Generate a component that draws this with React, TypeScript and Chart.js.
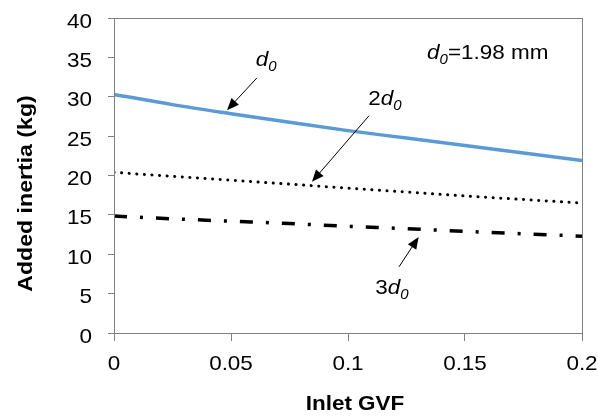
import React, { useEffect, useRef } from "react";
import { Chart, registerables } from "chart.js";

Chart.register(...registerables);

const gvf = [0, 0.025, 0.05, 0.075, 0.1, 0.125, 0.15, 0.175, 0.2];
const seriesD0 = [30.3, 29.0, 27.85, 26.75, 25.7, 24.75, 23.8, 22.85, 21.9];
const series2D0 = [20.4, 19.9, 19.4, 18.9, 18.4, 17.9, 17.4, 16.95, 16.5];
const series3D0 = [14.85, 14.5, 14.2, 13.9, 13.55, 13.25, 12.9, 12.6, 12.3];
const xTicks = [0, 0.05, 0.1, 0.15, 0.2];
const yTicks = [0, 5, 10, 15, 20, 25, 30, 35, 40];

// annotation anchors in data units: [label x, label y, arrow from x, from y, arrow to x, to y]
const annD0 = [0.065, 34.8, 0.0611, 32.4, 0.0483, 28.3];
const ann2D0 = [0.1158, 29.8, 0.109, 27.6, 0.0846, 19.2];
const ann3D0 = [0.1188, 5.8, 0.1218, 8.4, 0.1302, 12.2];
const noteAnchor = [0.1338, 35.7];

const FONT = "Liberation Sans, Arial, sans-serif";
const SX = 1.07;

function txt(ctx: CanvasRenderingContext2D, s: string, x: number, y: number, font: string, align: CanvasTextAlign = "left") {
  ctx.save();
  ctx.font = font;
  ctx.textAlign = align;
  ctx.textBaseline = "alphabetic";
  ctx.translate(x, y);
  ctx.scale(SX, 1);
  ctx.fillText(s, 0, 0);
  ctx.restore();
}

function width(ctx: CanvasRenderingContext2D, s: string, font: string) {
  ctx.font = font;
  return ctx.measureText(s).width * SX;
}

function drawRich(ctx: CanvasRenderingContext2D, prefix: string, suffix: string, x: number, base: number) {
  const fMain = `21px ${FONT}`;
  const fIt = `italic 21px ${FONT}`;
  const fSub = `italic 14px ${FONT}`;
  if (prefix) {
    txt(ctx, prefix, x, base, fMain);
    x += width(ctx, prefix, fMain);
  }
  txt(ctx, "d", x, base, fIt);
  x += width(ctx, "d", fIt);
  txt(ctx, "0", x, base + 5, fSub);
  x += width(ctx, "0", fSub);
  if (suffix) txt(ctx, suffix, x, base, fMain);
}

function richWidth(ctx: CanvasRenderingContext2D, prefix: string) {
  return (
    (prefix ? width(ctx, prefix, `21px ${FONT}`) : 0) +
    width(ctx, "d", `italic 21px ${FONT}`) +
    width(ctx, "0", `italic 14px ${FONT}`)
  );
}

function drawArrow(ctx: CanvasRenderingContext2D, x1: number, y1: number, x2: number, y2: number) {
  const ang = Math.atan2(y2 - y1, x2 - x1);
  const head = 12;
  const hw = 5;
  ctx.strokeStyle = "#000";
  ctx.lineWidth = 1;
  ctx.beginPath();
  ctx.moveTo(x1, y1);
  ctx.lineTo(x2 - Math.cos(ang) * head * 0.8, y2 - Math.sin(ang) * head * 0.8);
  ctx.stroke();
  ctx.beginPath();
  ctx.moveTo(x2, y2);
  ctx.lineTo(x2 - Math.cos(ang) * head + Math.sin(ang) * hw, y2 - Math.sin(ang) * head - Math.cos(ang) * hw);
  ctx.lineTo(x2 - Math.cos(ang) * head - Math.sin(ang) * hw, y2 - Math.sin(ang) * head + Math.cos(ang) * hw);
  ctx.closePath();
  ctx.fillStyle = "#000";
  ctx.fill();
}

const annotPlugin = {
  id: "annot",
  afterDatasetsDraw(chart: any) {
    const ctx: CanvasRenderingContext2D = chart.ctx;
    const xs = chart.scales.x;
    const ys = chart.scales.y;
    const ca = chart.chartArea;
    ctx.save();
    // frame
    ctx.strokeStyle = "#808080";
    ctx.lineWidth = 1;
    ctx.strokeRect(Math.round(ca.left) + 0.5, Math.round(ca.top) + 0.5, Math.round(ca.right - ca.left), Math.round(ca.bottom - ca.top));
    ctx.fillStyle = "#000";
    // tick labels
    const tf = `21px ${FONT}`;
    for (const v of yTicks) {
      txt(ctx, String(v), ca.left - 22, ys.getPixelForValue(v) + 9.5, tf, "right");
    }
    for (const v of xTicks) {
      txt(ctx, String(v), xs.getPixelForValue(v), ca.bottom + 37, tf, "center");
    }
    // annotations
    const items: [string, number[]][] = [["", annD0], ["2", ann2D0], ["3", ann3D0]];
    for (const [p, a] of items) {
      const cx = xs.getPixelForValue(a[0]);
      const cy = ys.getPixelForValue(a[1]);
      drawRich(ctx, p, "", cx - richWidth(ctx, p) / 2, cy + 7);
      drawArrow(ctx, xs.getPixelForValue(a[2]), ys.getPixelForValue(a[3]), xs.getPixelForValue(a[4]), ys.getPixelForValue(a[5]));
    }
    drawRich(ctx, "", "=1.98 mm", xs.getPixelForValue(noteAnchor[0]), ys.getPixelForValue(noteAnchor[1]) + 7);
    // axis titles
    txt(ctx, "Inlet GVF", (ca.left + ca.right) / 2 + 7, 410, `bold 21px ${FONT}`, "center");
    ctx.save();
    ctx.translate(32, (ca.top + ca.bottom) / 2 + 18);
    ctx.rotate(-Math.PI / 2);
    ctx.scale(1.1, 1);
    ctx.font = `bold 21px ${FONT}`;
    ctx.textAlign = "center";
    ctx.textBaseline = "alphabetic";
    ctx.fillText("Added inertia (kg)", 0, 0);
    ctx.restore();
    ctx.restore();
  },
};

export default function App() {
  const ref = useRef<HTMLCanvasElement | null>(null);
  useEffect(() => {
    document.body.style.margin = "0";
    const canvas = ref.current!;
    const mk = (vals: number[]) => gvf.map((x, i) => ({ x, y: vals[i] }));
    const chart = new Chart(canvas, {
      type: "line",
      data: {
        datasets: [
          {
            label: "d0",
            data: mk(seriesD0),
            borderColor: "#5B9BD5",
            borderWidth: 3.5,
            pointRadius: 0,
            cubicInterpolationMode: "monotone",
          },
          {
            label: "2d0",
            data: mk(series2D0),
            borderColor: "#000",
            borderWidth: 3,
            borderDash: [0.1, 7.5],
            borderCapStyle: "round",
            pointRadius: 0,
            cubicInterpolationMode: "monotone",
          },
          {
            label: "3d0",
            data: mk(series3D0),
            borderColor: "#000",
            borderWidth: 3.5,
            borderDash: [13, 13, 3, 13],
            pointRadius: 0,
            cubicInterpolationMode: "monotone",
          },
        ],
      },
      options: {
        responsive: false,
        animation: false,
        layout: { padding: { left: 0, right: 16, top: 18, bottom: 0 } },
        plugins: { legend: { display: false }, tooltip: { enabled: false } },
        scales: {
          x: {
            type: "linear",
            min: 0,
            max: 0.2,
            afterBuildTicks: (s: any) => {
              s.ticks = xTicks.map((v) => ({ value: v }));
            },
            afterFit: (s: any) => {
              s.height = 83;
            },
            border: { display: true, color: "#808080", width: 1 },
            grid: { display: true, drawOnChartArea: false, drawTicks: true, tickLength: 8, color: "#808080" },
            ticks: { display: false },
          },
          y: {
            type: "linear",
            min: 0,
            max: 40,
            afterBuildTicks: (s: any) => {
              s.ticks = yTicks.map((v) => ({ value: v }));
            },
            afterFit: (s: any) => {
              s.width = 114;
            },
            border: { display: true, color: "#808080", width: 1 },
            grid: { display: true, drawOnChartArea: false, drawTicks: true, tickLength: 6, color: "#808080" },
            ticks: { display: false },
          },
        },
      },
      plugins: [annotPlugin],
    } as any);
    return () => chart.destroy();
  }, []);
  return <canvas ref={ref} width={598} height={416} style={{ display: "block" }} />;
}
